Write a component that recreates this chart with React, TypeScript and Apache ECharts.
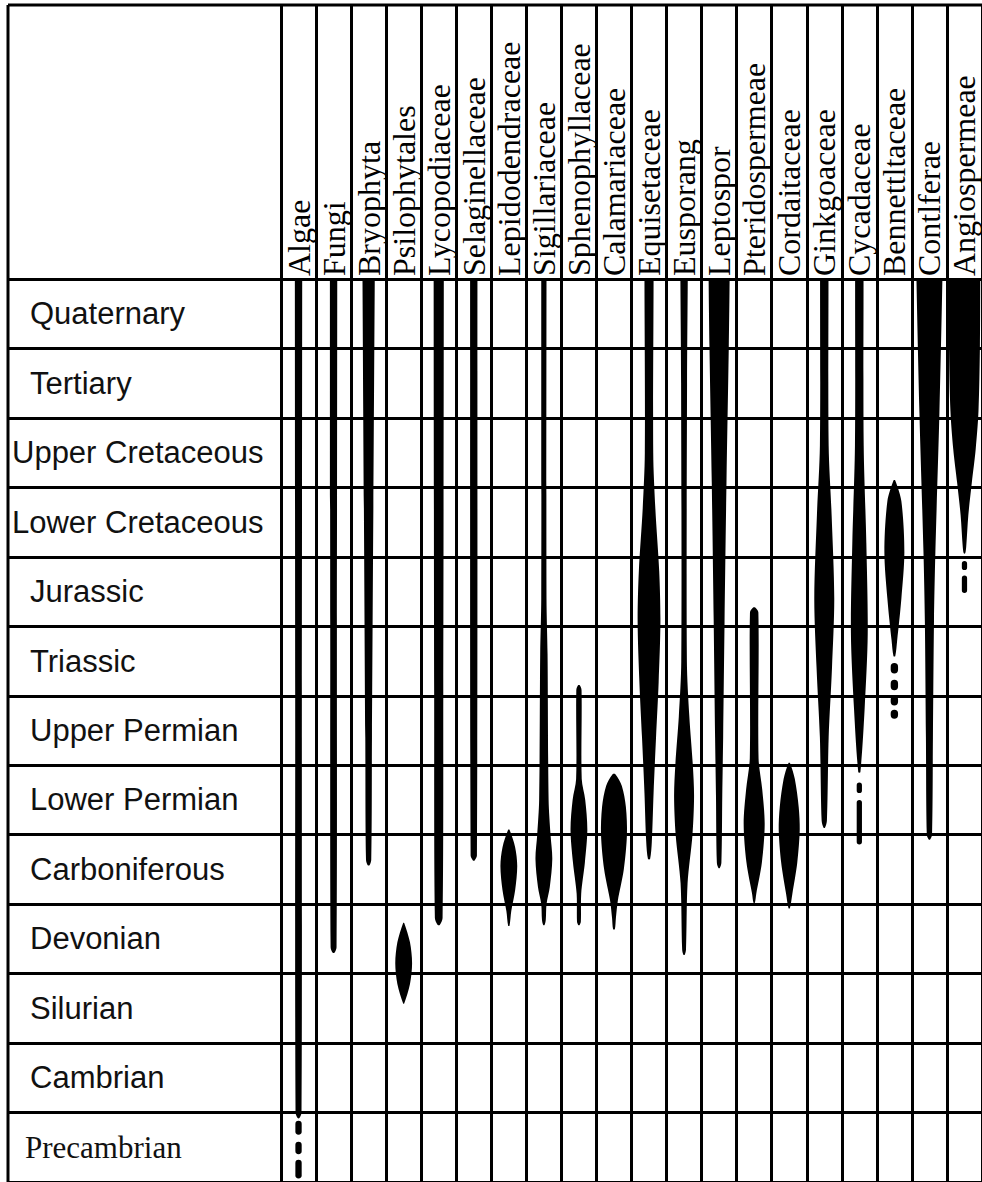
import React, { useEffect, useRef } from "react";
import * as echarts from "echarts";

const TAXA = [
  "Algae", "Fungi", "Bryophyta", "Psilophytales", "Lycopodiaceae", "Selaginellaceae",
  "Lepidodendraceae", "Sigillariaceae", "Sphenophyllaceae", "Calamariaceae", "Equisetaceae",
  "Eusporang", "Leptospor", "Pteridospermeae", "Cordaitaceae", "Ginkgoaceae", "Cycadaceae",
  "Bennettltaceae", "Contlferae", "Angiospermeae",
];

const PERIODS = [
  "Quaternary", "Tertiary", "Upper Cretaceous", "Lower Cretaceous", "Jurassic", "Triassic",
  "Upper Permian", "Lower Permian", "Carboniferous", "Devonian", "Silurian", "Cambrian", "Precambrian",
];

// Spindle profiles: [position in periods from top (0 = present), relative width of column]
const algae = [[0, 0.21], [6, 0.19], [12.0, 0.17], [12.08, 0.05]];
const fungi = [[0, 0.21], [5, 0.19], [9.62, 0.17], [9.7, 0.05]];
const bryophyta = [[0, 0.35], [3.3, 0.27], [6.6, 0.19], [8.36, 0.15], [8.44, 0.05]];
const psilophytales = [[9.27, 0.03], [9.55, 0.36], [9.85, 0.48], [10.15, 0.36], [10.43, 0.03]];
const lycopodiaceae = [[0, 0.29], [6, 0.26], [9.2, 0.22], [9.3, 0.06]];
const selaginellaceae = [[0, 0.21], [8.3, 0.18], [8.37, 0.05]];
const lepidodendraceae = [[7.93, 0.04], [8.18, 0.36], [8.45, 0.48], [8.8, 0.36], [9.1, 0.14], [9.31, 0.04]];
const sigillariaceae = [[0, 0.15], [4.6, 0.15], [5.4, 0.21], [7.5, 0.27], [8.0, 0.38], [8.35, 0.48], [8.75, 0.34], [9.0, 0.15], [9.22, 0.11], [9.3, 0.04]];
const sphenophyllaceae = [[5.85, 0.05], [5.92, 0.15], [7.2, 0.16], [7.5, 0.36], [7.93, 0.48], [8.4, 0.34], [8.85, 0.13], [9.25, 0.11], [9.3, 0.04]];
const calamariaceae = [[7.13, 0.08], [7.3, 0.45], [7.6, 0.68], [8.0, 0.74], [8.5, 0.56], [8.95, 0.22], [9.2, 0.11], [9.36, 0.05]];
const equisetaceae = [[0, 0.26], [2.5, 0.24], [3.3, 0.36], [4.2, 0.58], [4.93, 0.65], [5.8, 0.55], [6.6, 0.4], [7.4, 0.26], [8.1, 0.16], [8.35, 0.06]];
const eusporang = [[0, 0.21], [1.5, 0.17], [5.5, 0.16], [6.3, 0.3], [7.0, 0.5], [7.45, 0.57], [8.0, 0.48], [8.7, 0.2], [9.65, 0.11], [9.73, 0.04]];
const leptospor = [[0, 0.6], [1.0, 0.55], [2.93, 0.42], [4.93, 0.31], [6.6, 0.23], [7.43, 0.18], [8.4, 0.13], [8.48, 0.04]];
const pteridospermeae = [[4.73, 0.06], [4.8, 0.24], [6.9, 0.25], [7.35, 0.46], [7.85, 0.6], [8.4, 0.44], [8.85, 0.12], [8.98, 0.04]];
const cordaitaceae = [[6.97, 0.05], [7.2, 0.32], [7.6, 0.54], [7.93, 0.6], [8.4, 0.46], [8.85, 0.18], [9.06, 0.04]];
const ginkgoaceae = [[0, 0.24], [2.4, 0.25], [3.4, 0.42], [4.6, 0.57], [5.6, 0.44], [6.6, 0.25], [7.8, 0.15], [7.9, 0.04]];
const cycadaceae = [[0, 0.24], [2.4, 0.25], [3.8, 0.4], [5.1, 0.48], [6.2, 0.3], [7.1, 0.06]];
const bennettitaceae = [[2.9, 0.05], [3.2, 0.4], [3.93, 0.57], [4.6, 0.4], [5.2, 0.16], [5.43, 0.05]];
const coniferae = [[0, 0.74], [1.93, 0.57], [3.93, 0.34], [4.93, 0.26], [6.6, 0.2], [8.0, 0.15], [8.07, 0.04]];
const angiospermeae = [[0, 0.9], [1.0, 0.88], [1.9, 0.8], [2.45, 0.64], [2.93, 0.42], [3.4, 0.22], [3.85, 0.1], [3.95, 0.04]];

// Uncertain records (dashed): [from, to, relative width]
const algaeDashes = [[12.12, 12.32, 0.18], [12.42, 12.6, 0.18], [12.68, 12.95, 0.18]];
const cycadDashes = [[7.25, 7.4, 0.15], [7.5, 8.14, 0.15]];
const bennettDashes = [[5.53, 5.68, 0.21], [5.77, 5.92, 0.21], [6.0, 6.14, 0.21], [6.2, 6.33, 0.21]];
const angioDashes = [[4.06, 4.19, 0.15], [4.27, 4.52, 0.15]];

const PROFILES = [
  algae, fungi, bryophyta, psilophytales, lycopodiaceae, selaginellaceae, lepidodendraceae,
  sigillariaceae, sphenophyllaceae, calamariaceae, equisetaceae, eusporang, leptospor,
  pteridospermeae, cordaitaceae, ginkgoaceae, cycadaceae, bennettitaceae, coniferae, angiospermeae,
];
const DASHES: number[][][] = TAXA.map(() => []);
DASHES[0] = algaeDashes;
DASHES[16] = cycadDashes;
DASHES[17] = bennettDashes;
DASHES[19] = angioDashes;

const LINE = "#000";

export default function App() {
  const ref = useRef<HTMLDivElement>(null);
  useEffect(() => {
    if (!ref.current) return;
    const chart = echarts.init(ref.current, undefined, { renderer: "svg" });
    const wide = ["Upper Cretaceous", "Lower Cretaceous"];
    chart.setOption({
      animation: false,
      backgroundColor: "#fff",
      grid: { left: 281, top: 279, right: -5, bottom: 0, containLabel: false },
      xAxis: {
        type: "category",
        data: TAXA,
        position: "top",
        boundaryGap: true,
        axisLine: { show: true, lineStyle: { color: LINE, width: 3 } },
        axisTick: { show: true, interval: 0, length: 274, lineStyle: { color: LINE, width: 3 } },
        axisLabel: {
          interval: 0,
          rotate: 90,
          margin: 3,
          fontFamily: "Liberation Serif",
          fontSize: 32,
          color: "#000",
        },
        splitLine: { show: true, interval: 0, lineStyle: { color: LINE, width: 3 } },
      },
      yAxis: [
        {
          type: "category",
          data: PERIODS,
          inverse: true,
          boundaryGap: true,
          axisLine: { show: true, lineStyle: { color: LINE, width: 3 } },
          axisTick: { show: true, interval: 0, length: 273, lineStyle: { color: LINE, width: 3 } },
          axisLabel: {
            interval: 0,
            align: "left",
            margin: 269,
            color: "#111",
            fontFamily: "Liberation Sans",
            fontSize: 31,
            formatter: (v: string) =>
              v === "Precambrian" ? `{p|${v}}` : wide.includes(v) ? `{w|${v}}` : `{n|${v}}`,
            rich: {
              n: { fontFamily: "Liberation Sans", fontSize: 31, color: "#111", padding: [0, 0, 0, 18] },
              w: { fontFamily: "Liberation Sans", fontSize: 31, color: "#111", padding: [0, 0, 0, 0] },
              p: { fontFamily: "Liberation Serif", fontSize: 31, color: "#111", padding: [0, 0, 0, 13] },
            },
          },
          splitLine: { show: true, interval: 0, lineStyle: { color: LINE, width: 3 } },
        },
        { type: "value", min: 0, max: 13, inverse: true, show: false },
      ],
      graphic: [
        { type: "line", shape: { x1: 8, y1: 5, x2: 982, y2: 5 }, style: { stroke: LINE, lineWidth: 3 } },
        { type: "line", shape: { x1: 8, y1: 5, x2: 8, y2: 1182 }, style: { stroke: LINE, lineWidth: 3 } },
      ],
      series: [
        {
          type: "custom",
          coordinateSystem: "cartesian2d",
          xAxisIndex: 0,
          yAxisIndex: 1,
          clip: true,
          data: TAXA.map((_, i) => [i, 6.5]),
          encode: { x: 0, y: 1 },
          renderItem: (params: any, api: any) => {
            const i = api.value(0);
            const prof = PROFILES[i];
            const bw = api.size([1, 0])[0];
            const children: any[] = [];
            const pts = prof.slice();
            if (pts[0][0] === 0) pts.unshift([-0.3, pts[0][1]]);
            const left: number[][] = [];
            const right: number[][] = [];
            pts.forEach(([u, w]) => {
              const p = api.coord([i, u]);
              left.push([p[0] - (w * bw) / 2, p[1]]);
              right.push([p[0] + (w * bw) / 2, p[1]]);
            });
            children.push({
              type: "polygon",
              shape: { points: left.concat(right.reverse()), smooth: 0.3 },
              style: { fill: "#000" },
            });
            DASHES[i].forEach(([u0, u1, w]) => {
              const a = api.coord([i, u0]);
              const b = api.coord([i, u1]);
              const ww = w * bw;
              children.push({
                type: "rect",
                shape: { x: a[0] - ww / 2, y: a[1], width: ww, height: b[1] - a[1], r: ww / 2 },
                style: { fill: "#000" },
              });
            });
            return { type: "group", children };
          },
        },
      ],
    });
    return () => chart.dispose();
  }, []);
  return (
    <div
      ref={ref}
      style={{ position: "absolute", left: 0, top: 0, width: 982, height: 1182, background: "#fff" }}
    />
  );
}
